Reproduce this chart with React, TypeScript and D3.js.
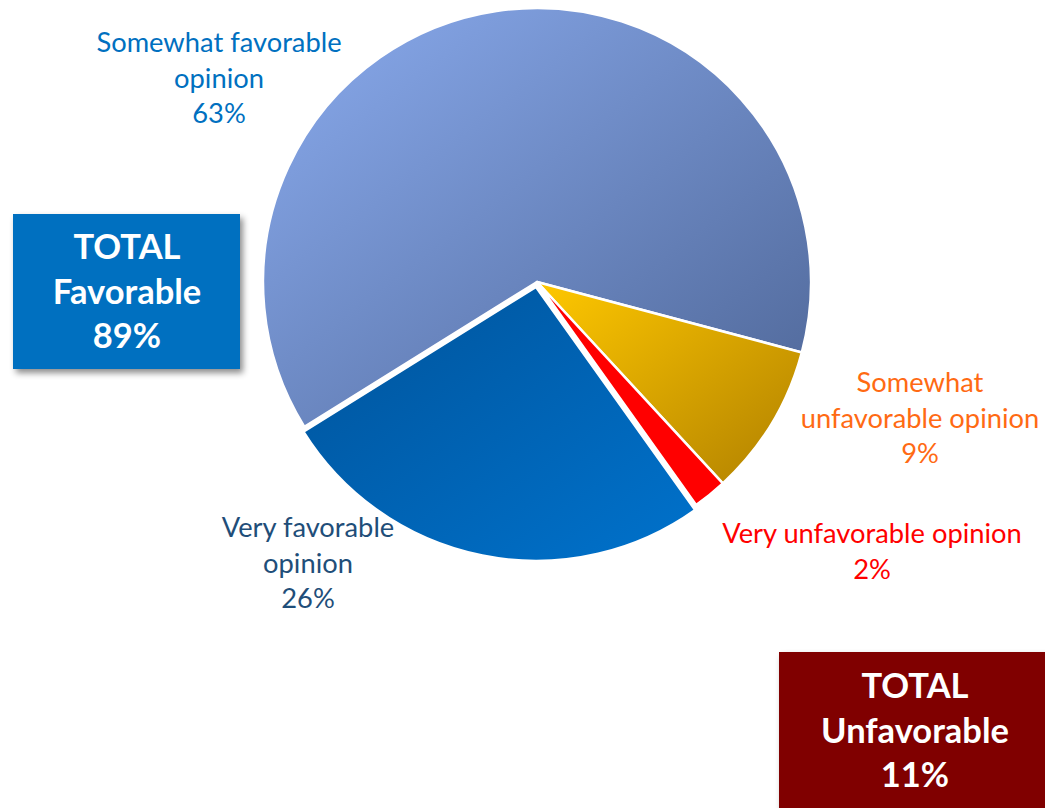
import * as d3 from 'd3'

// slice data, in drawing order (clockwise from the start angle)
const categories = ['Very favorable', 'Somewhat favorable', 'Somewhat unfavorable', 'Very unfavorable']
const values = [26, 63, 9, 2]
const labelLines = [
  ['Very favorable', 'opinion', '26%'],
  ['Somewhat favorable', 'opinion', '63%'],
  ['Somewhat', 'unfavorable opinion', '9%'],
  ['Very unfavorable opinion', '2%'],
]
const totalTitles = ['Favorable', 'Unfavorable']
const totalValues = [89, 11]

const W = 1045
const H = 808
const cx = 537
const cy = 282
const radius = 274
const startDeg = 144.5

const gradients = [
  ['#00539a', '#0072cc'],
  ['#8aabee', '#4f6798'],
  ['#ffc800', '#b08000'],
  ['#ff0000', '#ff0000'],
]
const labelColors = ['#1f4e79', '#0070c0', '#ff6a13', '#ff0000']
// label anchor (center x, first baseline y)
const labelPos = [
  [308, 537],
  [219, 52],
  [920, 392],
  [872, 543],
]
const explode = [5, 0, 0, 0]

export default function App() {
  const start = (startDeg * Math.PI) / 180
  const pie = d3
    .pie<number>()
    .sort(null)
    .value(d => d)
    .startAngle(start)
    .endAngle(start + 2 * Math.PI)
  const arcs = pie(values)
  const arc = d3.arc<d3.PieArcDatum<number>>().innerRadius(0).outerRadius(radius)

  const boxes = [
    { x: 13, y: 214, w: 227, h: 155, fill: '#0070c0', cx: 127, y0: 259 },
    { x: 779, y: 652, w: 280, h: 170, fill: '#800000', cx: 915, y0: 698 },
  ]

  return (
    <svg width={W} height={H} style={{ position: 'absolute', left: 0, top: 0 }} fontFamily="Lato, 'Open Sans', sans-serif">
      <defs>
        {gradients.map((g, i) => (
          <linearGradient key={i} id={`grad${i}`} x1="0" y1="0" x2="1" y2="1">
            <stop offset="0%" stopColor={g[0]} />
            <stop offset="100%" stopColor={g[1]} />
          </linearGradient>
        ))}
        <filter id="shadow" x="-20%" y="-20%" width="150%" height="150%">
          <feDropShadow dx="3" dy="4" stdDeviation="3" floodColor="#000" floodOpacity="0.45" />
        </filter>
      </defs>

      <g transform={`translate(${cx},${cy})`}>
        {arcs.map((a, i) => {
          const mid = (a.startAngle + a.endAngle) / 2
          const dx = Math.sin(mid) * explode[i]
          const dy = -Math.cos(mid) * explode[i]
          return (
            <path
              key={categories[i]}
              d={arc(a) ?? ''}
              transform={`translate(${dx},${dy})`}
              fill={`url(#grad${i})`}
              stroke="#fff"
              strokeWidth={2.5}
              strokeLinejoin="round"
            />
          )
        })}
      </g>

      {labelLines.map((lines, i) => (
        <text key={i} fill={labelColors[i]} fontSize={27.3} textAnchor="middle">
          {lines.map((l, j) => (
            <tspan key={j} x={labelPos[i][0]} y={labelPos[i][1] + j * 35.5}>
              {l}
            </tspan>
          ))}
        </text>
      ))}

      {boxes.map((b, i) => (
        <g key={i}>
          <rect x={b.x} y={b.y} width={b.w} height={b.h} fill={b.fill} filter="url(#shadow)" />
          <text fill="#fff" fontSize={34.5} fontWeight="bold" textAnchor="middle">
            {['TOTAL', totalTitles[i], `${totalValues[i]}%`].map((t, j) => (
              <tspan key={j} x={b.cx} y={b.y0 + j * 44.5}>
                {t}
              </tspan>
            ))}
          </text>
        </g>
      ))}
    </svg>
  )
}
